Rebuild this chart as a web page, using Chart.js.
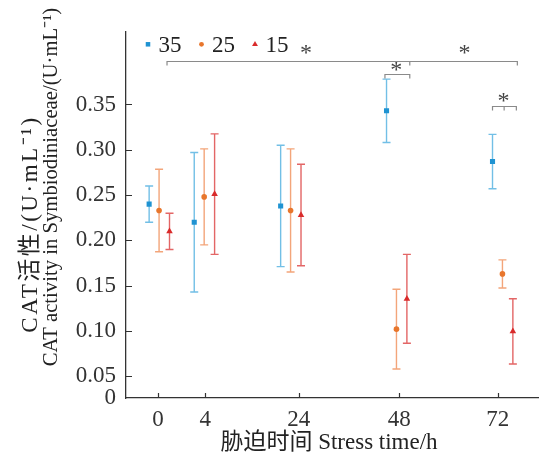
<!DOCTYPE html>
<html>
<head>
<meta charset="utf-8">
<script src="https://cdn.jsdelivr.net/npm/chart.js@4.4.0/dist/chart.umd.min.js"></script>
<style>
  body { margin: 0; background: #fff; }
</style>
</head>
<body>
<canvas id="myChart" width="542" height="456"></canvas>
<script>
// stress time (h) and temperature groups
const timeLabels = ["0", "4", "24", "48", "72"];
const seriesNames = ["35", "25", "15"];

// CAT activity, mean and SD per group
const mean35 = [0.240, 0.220, 0.238, 0.343, 0.287];
const sd35 = [0.020, 0.077, 0.067, 0.035, 0.030];
const mean25 = [0.233, 0.248, 0.233, 0.102, 0.163];
const sd25 = [0.0455, 0.053, 0.068, 0.044, 0.0155];
const mean15 = [0.210, 0.251, 0.228, 0.1355, 0.0995];
const sd15 = [0.020, 0.0665, 0.056, 0.049, 0.036];

// y axis ticks (bottom of axis is labelled 0)
const yTicks = [0.05, 0.10, 0.15, 0.20, 0.25, 0.30, 0.35];

// layout on the warped time axis (the axis is not proportional to hours)
const tickPos = [0.323, 0.797, 1.74, 2.75, 3.743];
const groupPos = [0.333, 0.787, 1.657, 2.723, 3.79];
const offsets = [-0.10, 0, 0.105];
const yMin = 0.026, yMax = 0.430;

// significance brackets, in axis units
const brackets = [
  { x0: 0.413, x1: 3.94, mid: [2.857], y: 0.3975 },
  { x0: 2.607, x1: 2.857, mid: [], y: 0.3839 },
  { x0: 3.69, x1: 3.93, mid: [3.807], y: 0.3478 }
];
const stars = [
  { x: 1.813, y: 0.4104 },
  { x: 3.407, y: 0.4104 },
  { x: 2.72, y: 0.392 },
  { x: 3.80, y: 0.3582 }
];

const SERIF = "'Liberation Serif', serif";
const SERIF_CJK = "'Liberation Serif', 'Noto Sans CJK SC', serif";
const pointColors = ["#1f93d2", "#e8762c", "#d92b2b"];
const barColors = ["#72bfe6", "#f3a57a", "#e36666"];
const styles = ["rect", "circle", "triangle"];
const radii = [3.6, 2.8, 3.8];
const means = [mean35, mean25, mean15];
const sds = [sd35, sd25, sd15];

let datasets = seriesNames.map((name, s) => ({
  label: name,
  data: means[s].map((v, i) => ({ x: groupPos[i] + offsets[s], y: v })),
  sd: sds[s],
  barColor: barColors[s],
  pointStyle: styles[s],
  pointRadius: radii[s],
  pointHoverRadius: radii[s],
  backgroundColor: pointColors[s],
  borderColor: pointColors[s],
  borderWidth: 0,
  showLine: false
}));

const errorBars = {
  id: "errorBars",
  beforeDatasetsDraw(chart) {
    const ctx = chart.ctx;
    const ys = chart.scales.y;
    chart.data.datasets.forEach((ds, i) => {
      const meta = chart.getDatasetMeta(i);
      ctx.save();
      ctx.strokeStyle = ds.barColor;
      ctx.lineWidth = 1.4;
      meta.data.forEach((pt, j) => {
        const top = ys.getPixelForValue(ds.data[j].y + ds.sd[j]);
        const bot = ys.getPixelForValue(ds.data[j].y - ds.sd[j]);
        ctx.beginPath();
        ctx.moveTo(pt.x, top); ctx.lineTo(pt.x, bot);
        ctx.moveTo(pt.x - 4, top); ctx.lineTo(pt.x + 4, top);
        ctx.moveTo(pt.x - 4, bot); ctx.lineTo(pt.x + 4, bot);
        ctx.stroke();
      });
      ctx.restore();
    });
  }
};

function centerText(ctx, text, x, y) {
  const m = ctx.measureText(text);
  ctx.fillText(text, x, y + (m.actualBoundingBoxAscent - m.actualBoundingBoxDescent) / 2);
}

const extras = {
  id: "extras",
  afterDraw(chart) {
    const ctx = chart.ctx;
    const xs = chart.scales.x, ys = chart.scales.y;
    const area = chart.chartArea;
    ctx.save();
    // inward ticks
    ctx.strokeStyle = "#333";
    ctx.lineWidth = 1.2;
    ctx.beginPath();
    yTicks.forEach(v => {
      const py = Math.round(ys.getPixelForValue(v)) + 0.5;
      ctx.moveTo(area.left, py); ctx.lineTo(area.left + 6, py);
    });
    tickPos.forEach(v => {
      const px = Math.round(xs.getPixelForValue(v)) + 0.5;
      ctx.moveTo(px, area.bottom); ctx.lineTo(px, area.bottom - 5);
    });
    ctx.stroke();

    // significance brackets
    ctx.strokeStyle = "#8a8a8a";
    ctx.lineWidth = 1.2;
    brackets.forEach(b => {
      const py = Math.round(ys.getPixelForValue(b.y)) + 0.5;
      const x0 = xs.getPixelForValue(b.x0), x1 = xs.getPixelForValue(b.x1);
      ctx.beginPath();
      ctx.moveTo(x0, py + 4); ctx.lineTo(x0, py); ctx.lineTo(x1, py); ctx.lineTo(x1, py + 4);
      b.mid.forEach(m => {
        const pm = xs.getPixelForValue(m);
        ctx.moveTo(pm, py); ctx.lineTo(pm, py + 4);
      });
      ctx.stroke();
    });
    ctx.fillStyle = "#444";
    ctx.font = "24px " + SERIF;
    ctx.textAlign = "center";
    ctx.textBaseline = "alphabetic";
    stars.forEach(s => centerText(ctx, "*", xs.getPixelForValue(s.x), ys.getPixelForValue(s.y)));

    // legend
    let lx = area.left + 22;
    const ly = 44.3;
    ctx.font = "23px " + SERIF;
    ctx.textAlign = "left";
    chart.data.datasets.forEach((ds, i) => {
      ctx.fillStyle = pointColors[i];
      ctx.strokeStyle = pointColors[i];
      Chart.helpers.drawPoint(ctx, { pointStyle: styles[i], radius: radii[i] - 0.4, rotation: 0, borderWidth: 0 }, lx, ly);
      ctx.fillStyle = "#222";
      centerText(ctx, ds.label, lx + 10.5, ly);
      lx += 10.5 + ctx.measureText(ds.label).width + 20;
    });

    // axis titles
    ctx.fillStyle = "#222";
    ctx.font = "23px " + SERIF_CJK;
    ctx.textAlign = "center";
    centerText(ctx, "胁迫时间 Stress time/h", 329, 440);
    ctx.save();
    ctx.translate(29, 224);
    ctx.rotate(-Math.PI / 2);
    ctx.font = "23px " + SERIF_CJK;
    ctx.letterSpacing = "2.5px";
    centerText(ctx, "CAT活性/(U·mL⁻¹)", 0, 0);
    ctx.restore();
    ctx.save();
    ctx.translate(52, 187);
    ctx.rotate(-Math.PI / 2);
    ctx.font = "20.7px " + SERIF_CJK;
    centerText(ctx, "CAT activity in Symbiodiniaceae/(U·mL⁻¹)", 0, 0);
    ctx.restore();
    ctx.restore();
  }
};

var ctx = document.getElementById("myChart");
var myChart = new Chart(ctx, {
  type: "scatter",
  data: { datasets: datasets },
  plugins: [errorBars, extras],
  options: {
    responsive: false,
    animation: false,
    devicePixelRatio: 1,
    layout: { padding: { left: 0, top: 32, right: 1, bottom: 0 } },
    plugins: { legend: { display: false }, tooltip: { enabled: false } },
    scales: {
      x: {
        type: "linear",
        min: 0,
        max: 4.15,
        afterFit: (scale) => { scale.height = 58; },
        afterBuildTicks: (scale) => { scale.ticks = tickPos.map(v => ({ value: v })); },
        grid: { drawOnChartArea: false, drawTicks: false },
        border: { display: true, color: "#333", width: 1.3 },
        ticks: {
          autoSkip: false,
          maxRotation: 0,
          padding: 8,
          color: "#333",
          font: { family: SERIF, size: 23 },
          callback: (v, i) => timeLabels[i]
        }
      },
      y: {
        min: yMin,
        max: yMax,
        afterFit: (scale) => { scale.width = 126; },
        afterBuildTicks: (scale) => { scale.ticks = [yMin].concat(yTicks).map(v => ({ value: v })); },
        grid: { drawOnChartArea: false, drawTicks: false },
        border: { display: true, color: "#333", width: 1.3 },
        ticks: {
          autoSkip: false,
          padding: 10,
          color: "#333",
          font: { family: SERIF, size: 23 },
          callback: (v) => v === yMin ? "0" : v.toFixed(2)
        }
      }
    }
  }
});
</script>
</body>
</html>
